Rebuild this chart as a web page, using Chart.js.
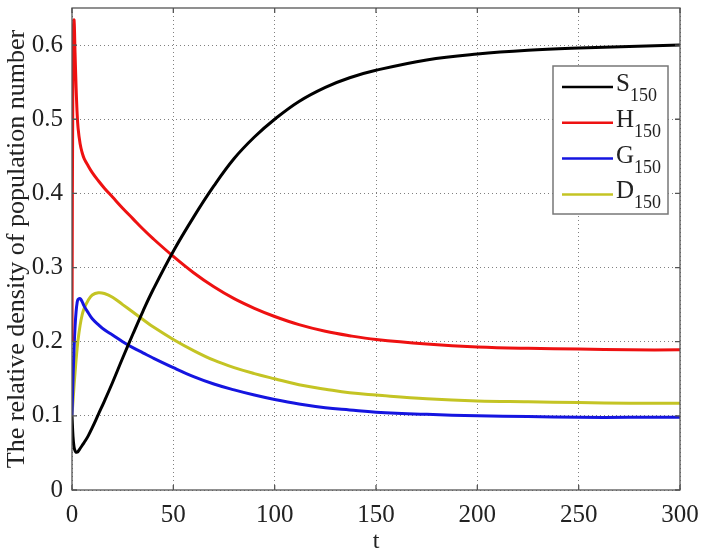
<!DOCTYPE html>
<html>
<head>
<meta charset="utf-8">
<script src="https://cdn.jsdelivr.net/npm/chart.js@4"></script>
<style>
  html, body { margin: 0; padding: 0; background: #fff; }
  #wrap { width: 706px; height: 556px; }
</style>
</head>
<body>
<div id="wrap"><canvas id="popChart" width="706" height="556"></canvas></div>
<script>
const tValues = [0, 0.5, 1, 1.5, 2, 2.5, 3, 4, 5, 6, 8, 10, 13, 16, 20, 25, 30, 35, 40, 50,
  60, 70, 80, 90, 100, 112, 125, 137, 150, 175, 200, 225, 250, 275, 300];

const sValues = [0.1, 0.072, 0.058, 0.053, 0.051, 0.051, 0.052, 0.056, 0.06, 0.064, 0.073, 0.084, 0.102, 0.12, 0.145, 0.178, 0.21, 0.241, 0.27, 0.322,
  0.368, 0.41, 0.447, 0.476, 0.5, 0.524, 0.543, 0.556, 0.566, 0.58, 0.588, 0.593, 0.596, 0.598, 0.6];

const hValues = [0.2, 0.6, 0.634, 0.59, 0.545, 0.51, 0.488, 0.467, 0.455, 0.447, 0.437, 0.428, 0.417, 0.407, 0.395, 0.38, 0.366, 0.352, 0.339, 0.315,
  0.293, 0.274, 0.258, 0.245, 0.234, 0.223, 0.214, 0.208, 0.203, 0.197, 0.193, 0.191, 0.19, 0.189, 0.189];

const gValues = [0.1, 0.15, 0.19, 0.22, 0.24, 0.252, 0.257, 0.258, 0.254, 0.248, 0.239, 0.231, 0.223, 0.216, 0.209, 0.2, 0.192, 0.185, 0.178, 0.165,
  0.153, 0.143, 0.135, 0.128, 0.122, 0.116, 0.111, 0.108, 0.105, 0.102, 0.1, 0.099, 0.098, 0.098, 0.098];

const dValues = [0.1, 0.12, 0.14, 0.158, 0.175, 0.19, 0.203, 0.222, 0.236, 0.245, 0.256, 0.263, 0.266, 0.265, 0.26, 0.25, 0.24, 0.23, 0.22, 0.203,
  0.188, 0.175, 0.165, 0.157, 0.15, 0.142, 0.136, 0.131, 0.128, 0.123, 0.12, 0.119, 0.118, 0.117, 0.117];

const seriesNames = ['S', 'H', 'G', 'D'];
const subscript = '150';
const colors = ['#000000', '#ee1111', '#1515e0', '#c4c424'];
const xTicks = [0, 50, 100, 150, 200, 250, 300];
const yTicks = [0, 0.1, 0.2, 0.3, 0.4, 0.5, 0.6];

const serif = '"Liberation Serif", "Times New Roman", serif';

function toPoints(values) {
  return tValues.map((t, i) => ({ x: t, y: values[i] }));
}

const allSeries = [sValues, hValues, gValues, dValues];

const datasets = allSeries.map((vals, i) => ({
  label: seriesNames[i] + subscript,
  name: seriesNames[i],
  data: toPoints(vals),
  borderColor: colors[i],
  borderWidth: 3,
  pointRadius: 0,
  fill: false,
  tension: 0.4
}));

// box round the plot with little inward ticks, like matlab
const axesBox = {
  id: 'axesBox',
  afterDatasetsDraw(chart) {
    const { ctx, chartArea: a, scales } = chart;
    ctx.save();
    ctx.strokeStyle = '#555';
    ctx.lineWidth = 1.3;
    ctx.strokeRect(a.left, a.top, a.right - a.left, a.bottom - a.top);
    ctx.beginPath();
    xTicks.forEach(v => {
      const px = scales.x.getPixelForValue(v);
      ctx.moveTo(px, a.bottom); ctx.lineTo(px, a.bottom - 5);
      ctx.moveTo(px, a.top); ctx.lineTo(px, a.top + 5);
    });
    yTicks.forEach(v => {
      const py = scales.y.getPixelForValue(v);
      ctx.moveTo(a.left, py); ctx.lineTo(a.left + 5, py);
      ctx.moveTo(a.right, py); ctx.lineTo(a.right - 5, py);
    });
    ctx.stroke();
    ctx.restore();
  }
};

const legendBox = {
  id: 'legendBox',
  afterDraw(chart) {
    const { ctx, chartArea } = chart;
    const w = 115, h = 148;
    const x0 = chartArea.right - 12 - w;
    const y0 = chartArea.top + 58;
    ctx.save();
    ctx.fillStyle = '#fff';
    ctx.fillRect(x0, y0, w, h);
    ctx.strokeStyle = '#777';
    ctx.lineWidth = 1.5;
    ctx.strokeRect(x0, y0, w, h);
    chart.data.datasets.forEach((ds, i) => {
      const y = y0 + 21 + i * 35.8;
      ctx.strokeStyle = ds.borderColor;
      ctx.lineWidth = 2.5;
      ctx.beginPath();
      ctx.moveTo(x0 + 9, y);
      ctx.lineTo(x0 + 60, y);
      ctx.stroke();
      ctx.fillStyle = '#222';
      ctx.textBaseline = 'alphabetic';
      ctx.font = '25px ' + serif;
      ctx.fillText(ds.name, x0 + 63, y + 4);
      const wName = ctx.measureText(ds.name).width;
      ctx.font = '18px ' + serif;
      ctx.fillText(subscript, x0 + 63 + wName, y + 14);
    });
    ctx.restore();
  }
};

const ctx = document.getElementById('popChart').getContext('2d');

new Chart(ctx, {
  type: 'line',
  data: { datasets: datasets },
  options: {
    responsive: false,
    animation: false,
    events: [],
    layout: { padding: { left: 0, top: 8, right: 26, bottom: 0 } },
    plugins: {
      legend: { display: false },
      tooltip: { enabled: false }
    },
    scales: {
      x: {
        type: 'linear',
        min: 0,
        max: 300,
        afterBuildTicks: scale => { scale.ticks = xTicks.map(v => ({ value: v })); },
        afterFit: scale => {
          scale.height = 66;
          scale.paddingLeft = 0;
          scale.paddingRight = 0;
        },
        grid: { color: '#808080', lineWidth: 1, drawTicks: false },
        border: { display: false, dash: [1, 3] },
        ticks: { color: '#222', padding: 10, font: { family: serif, size: 25 } },
        title: {
          display: true,
          text: 't',
          color: '#222',
          padding: { top: 0, bottom: 0 },
          font: { family: serif, size: 24 }
        }
      },
      y: {
        type: 'linear',
        min: 0,
        max: 0.65,
        afterBuildTicks: scale => { scale.ticks = yTicks.map(v => ({ value: v })); },
        afterFit: scale => {
          scale.width = 72;
          scale.paddingTop = 0;
          scale.paddingBottom = 0;
        },
        grid: { color: '#808080', lineWidth: 1, drawTicks: false },
        border: { display: false, dash: [1, 3] },
        ticks: {
          color: '#222',
          padding: 9,
          font: { family: serif, size: 25 },
          callback: v => String(Math.round(v * 10) / 10)
        },
        title: {
          display: true,
          text: 'The relative density of population number',
          color: '#222',
          padding: { top: 2, bottom: 0 },
          font: { family: serif, size: 26 }
        }
      }
    }
  },
  plugins: [axesBox, legendBox]
});
</script>
</body>
</html>
